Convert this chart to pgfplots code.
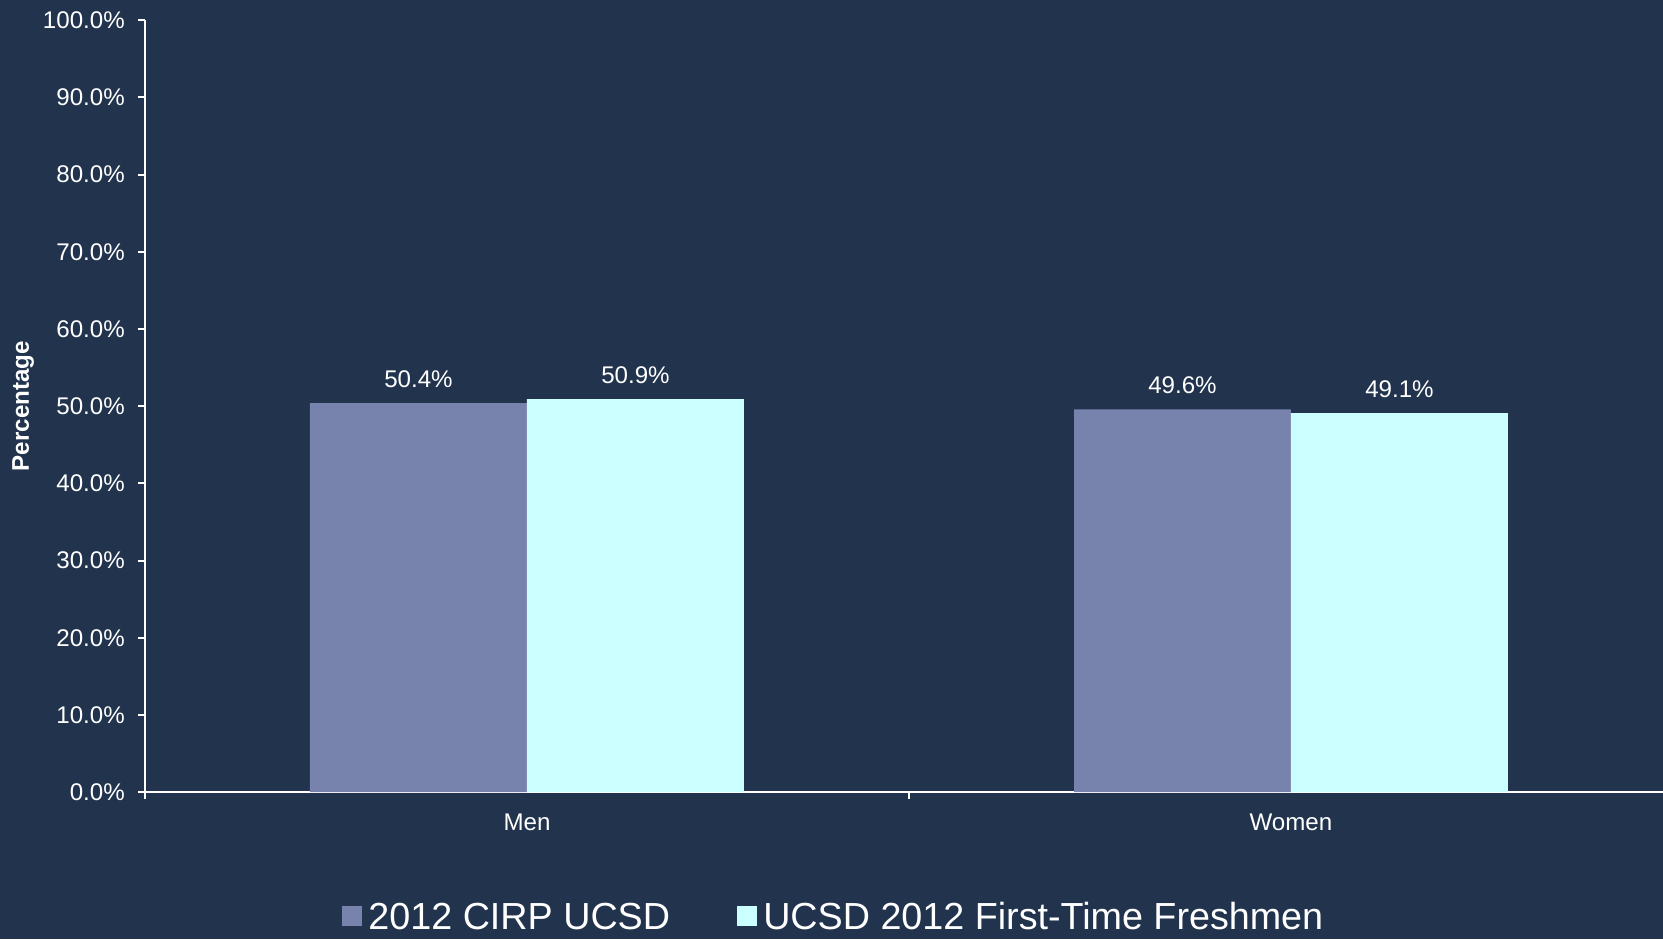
\documentclass[border=0pt]{standalone}
\usepackage{fontspec}
\setmainfont{Liberation Sans}
\usepackage{pgfplots}
\pgfplotsset{compat=1.18}

\definecolor{bgnavy}{RGB}{33,51,77}
\definecolor{cirp}{RGB}{119,130,173}
\definecolor{fresh}{RGB}{204,255,255}

\begin{document}
\begin{tikzpicture}
\useasboundingbox (0,0) rectangle (600pt,338.8pt);
\fill[bgnavy] (0,0) rectangle (600pt,338.8pt);
\begin{axis}[
  at={(52.3pt,53pt)}, anchor=south west,
  scale only axis, width=551.3pt, height=278.5pt,
  clip=false,
  ybar=0pt, bar width=0.284,
  xmin=-0.5, xmax=1.5, ymin=0, ymax=100,
  axis lines=left,
  axis line style={-, white, line width=0.7pt},
  tick style={white, line width=0.7pt},
  tick align=outside, major tick length=2.5pt,
  xtick={-0.5,0.5,1.5}, xticklabels={},
  extra x ticks={0,1}, extra x tick labels={Men,Women},
  extra x tick style={major tick length=0pt,
    xticklabel style={inner sep=0pt, anchor=north, yshift=-7.7pt}},
  ytick={0,10,...,100},
  /pgf/number format/assume math mode=true,
  yticklabel={\pgfmathprintnumber[fixed,fixed zerofill,precision=1]{\tick}\%},
  yticklabel style={inner sep=0pt, anchor=east, xshift=-4.6pt},
  tick label style={font=\fontsize{8.7}{10}\selectfont, text=white},
  ylabel={Percentage},
  ylabel style={at={(axis description cs:-0.0797,0.5)}, anchor=center,
    font=\fontsize{8.7}{10}\selectfont\bfseries, text=white},
  nodes near coords={\pgfmathprintnumber[fixed,fixed zerofill,precision=1]{\pgfplotspointmeta}\%},
  nodes near coords style={font=\fontsize{8.7}{10}\selectfont, text=white,
    anchor=south, inner sep=0pt, yshift=5.5pt},
  legend columns=2,
  legend style={at={(0.450,-0.163)}, anchor=center, draw=none, fill=none,
    text=white, font=\fontsize{13.6}{16}\selectfont,
    nodes={inner sep=0pt},
    /tikz/every odd column/.append style={column sep=2.2pt},
    /tikz/every even column/.append style={column sep=24pt}},
  legend image code/.code={\fill[#1] (0pt,-3pt) rectangle (7.4pt,4.4pt);},
]
\addplot[fill=cirp, draw=none] coordinates {(0,50.4) (1,49.6)};
\addlegendentry{2012 CIRP UCSD}
\addplot[fill=fresh, draw=none] coordinates {(0,50.9) (1,49.1)};
\addlegendentry{UCSD 2012 First-Time Freshmen}
\end{axis}
\end{tikzpicture}
\end{document}
